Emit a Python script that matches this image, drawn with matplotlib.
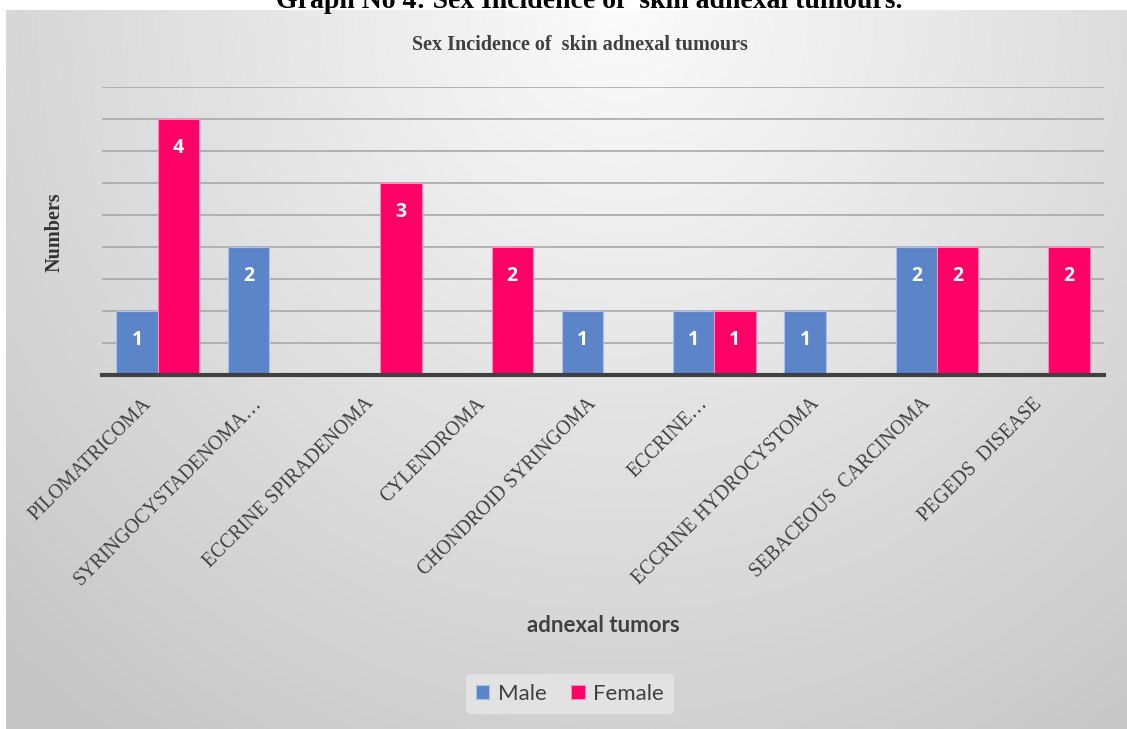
import numpy as np
import matplotlib
matplotlib.use("Agg")
import matplotlib.pyplot as plt
import matplotlib.transforms as mtransforms

# Data
categories = ["PILOMATRICOMA", "SYRINGOCYSTADENOMA…", "ECCRINE SPIRADENOMA", "CYLENDROMA",
              "CHONDROID SYRINGOMA", "ECCRINE…", "ECCRINE HYDROCYSTOMA",
              "SEBACEOUS  CARCINOMA", "PEGEDS  DISEASE"]
male = [1, 2, 0, 0, 1, 1, 1, 2, 0]
female = [4, 0, 3, 2, 0, 1, 0, 2, 2]

blue = "#5b84c9"
pink = "#ff0066"
W, H = 1127, 729

fig = plt.figure(figsize=(W / 100, H / 100), dpi=100)
fig.patch.set_facecolor("white")

# Gradient background of chart area
bg = fig.add_axes([6 / W, 0, 1121 / W, 719 / H], zorder=0)
yy, xx = np.mgrid[0:1:300j, 0:1:500j]
d = np.sqrt(((xx - 0.55) / 0.72) ** 2 + ((yy - 0.0) / 1.15) ** 2)
shade = np.clip(0.985 - 0.19 * d, 0.78, 1.0)
img = np.dstack([shade, shade, shade])
bg.imshow(img, aspect="auto", extent=[0, 1, 1, 0])
bg.set_xlim(0, 1)
bg.set_ylim(1, 0)
bg.axis("off")

# Top caption, partly cut off as in the source
fig.text(0.523, 1 - 8 / H, "Graph No 4: Sex Incidence of  skin adnexal tumours.",
         ha="center", va="baseline", fontsize=20, fontweight="bold",
         family="Liberation Serif", color="black", zorder=1)

ax = fig.add_axes([102 / W, 1 - 375 / H, 1002 / W, 288 / H], zorder=2)
ax.patch.set_alpha(0)
x = np.arange(len(categories))
bw = 0.37
b1 = ax.bar(x - bw / 2, male, bw, color=blue, edgecolor="#aac0e6", linewidth=0.8, label="Male", zorder=3)
b2 = ax.bar(x + bw / 2, female, bw, color=pink, edgecolor="#ff8ab8", linewidth=0.8, label="Female", zorder=3)

for bars, vals in [(b1, male), (b2, female)]:
    for r, v in zip(bars, vals):
        if v > 0:
            ax.annotate(str(v), (r.get_x() + r.get_width() / 2, v), xytext=(0, -21),
                        textcoords="offset points", ha="center", va="center",
                        color="white", fontsize=14, fontweight="bold", family="Open Sans", zorder=4)

ax.set_ylim(0, 4.5)
ax.set_xlim(-0.5, len(categories) - 0.5)
ax.set_yticks(np.arange(0.5, 4.51, 0.5))
ax.yaxis.grid(True, color="#a8a8a8", linewidth=1.2, zorder=0)
ax.tick_params(axis="y", length=0, labelleft=False)
ax.tick_params(axis="x", length=0, pad=14)
for s in ["top", "right", "left"]:
    ax.spines[s].set_visible(False)
ax.spines["bottom"].set_color("#404040")
ax.spines["bottom"].set_linewidth(3)
ax.spines["bottom"].set_zorder(5)

ax.set_xticks(x)
ax.set_xticklabels(categories, rotation=45, ha="right", rotation_mode="anchor",
                   fontsize=14.2, family="Liberation Serif", color="#404040")
shift = mtransforms.ScaledTranslation(-16 / 100, 0, fig.dpi_scale_trans)
for lbl in ax.get_xticklabels():
    lbl.set_transform(lbl.get_transform() + shift)

fig.text(580 / W, 1 - 45 / H, "Sex Incidence of  skin adnexal tumours", ha="center", va="center",
         fontsize=14.5, fontweight="bold", family="Liberation Serif", color="#404040")
fig.text(55 / W, 1 - 232 / H, "Numbers", ha="center", va="center", rotation=90,
         fontsize=14.5, fontweight="bold", family="Liberation Serif", color="#333333")
fig.text(603 / W, 1 - 626 / H, "adnexal tumors", ha="center", va="center",
         fontsize=16, fontweight="bold", family="Lato", color="#404040")

leg = fig.legend(handles=[b1, b2], loc="center", bbox_to_anchor=(570 / W, 1 - 694 / H),
                 ncol=2, frameon=True, prop={"family": "Lato", "size": 16},
                 handlelength=0.6, handleheight=0.6, handletextpad=0.4, columnspacing=1.1,
                 borderpad=0.45)
leg.get_frame().set_facecolor("#e2e2e2")
leg.get_frame().set_edgecolor("none")
leg.get_frame().set_alpha(1)
for t in leg.get_texts():
    t.set_color("#404040")

fig.savefig("out.png", dpi=100)
